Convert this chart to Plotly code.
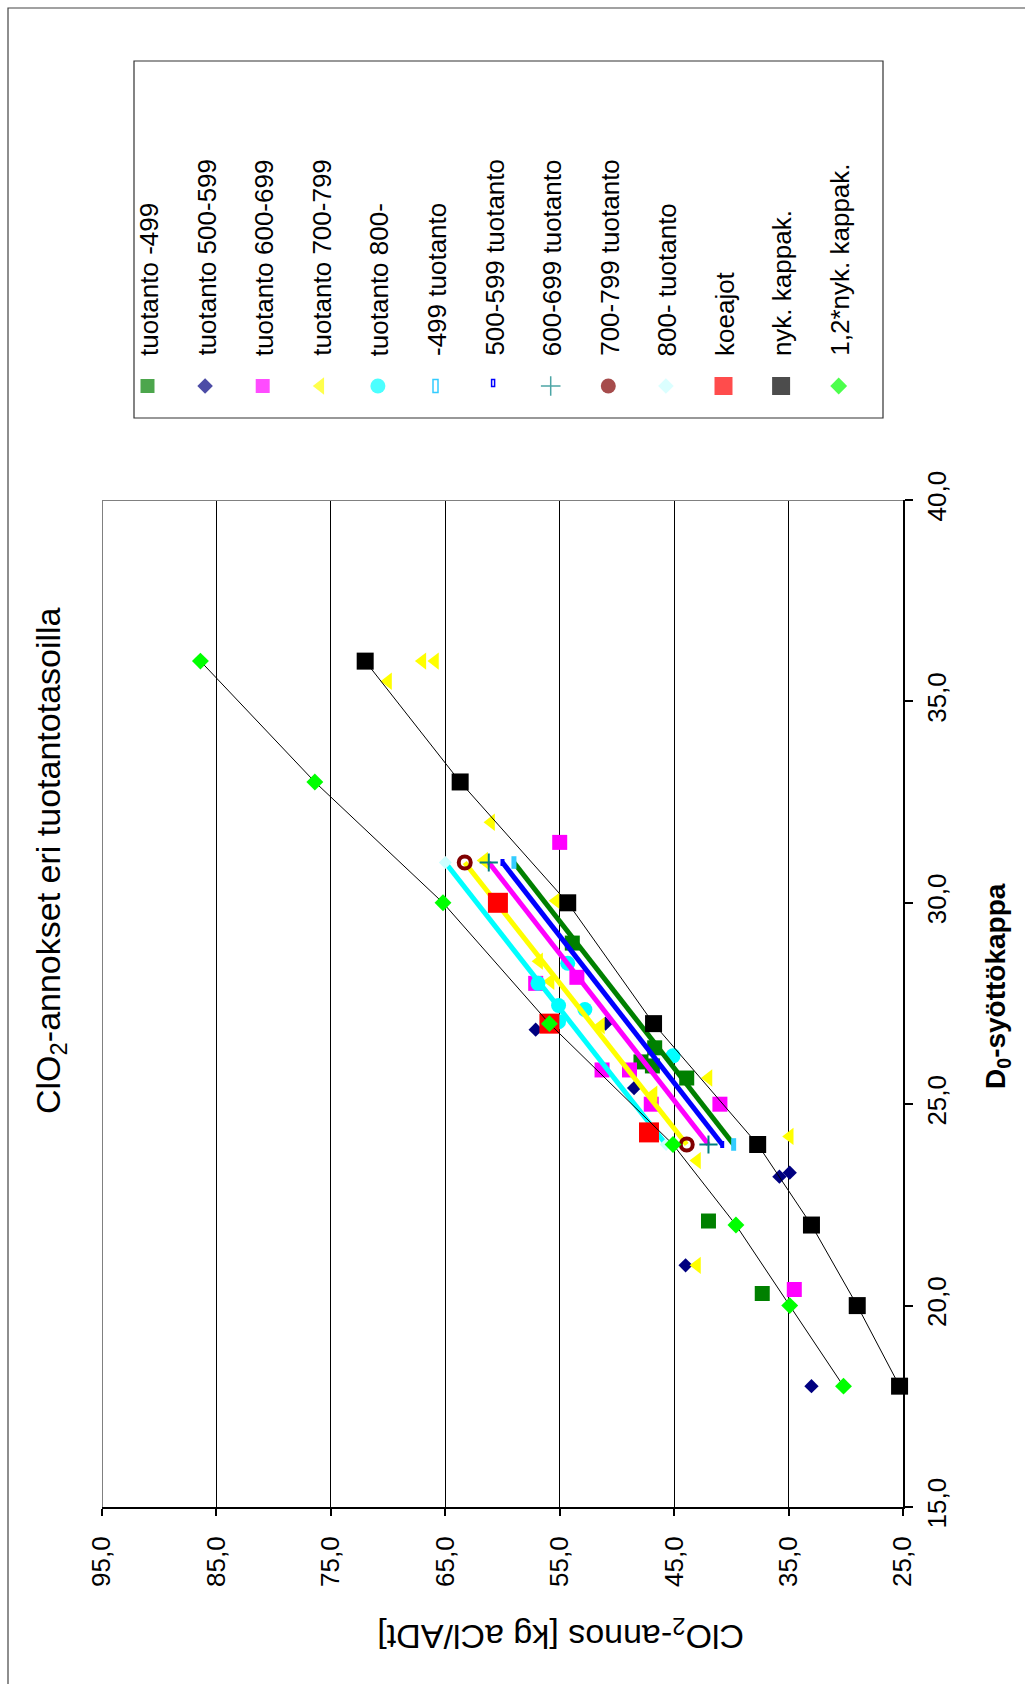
import plotly.graph_objects as go

W, H = 1025, 1684

# ---------------- data (x = D0-syöttökappa, y = ClO2-annos) ----------------
t499_kappa = [29.0, 26.4, 26.05, 25.95, 25.65, 22.1, 20.3]
t499_clo2 = [53.9, 46.7, 47.9, 46.9, 43.9, 42.0, 37.3]

t500_kappa = [26.85, 27.0, 25.4, 23.2, 23.3, 21.0, 18.0]
t500_clo2 = [57.1, 51.0, 48.5, 35.8, 34.9, 44.0, 33.0]

t600_kappa = [31.5, 28.15, 28.0, 25.85, 25.85, 25.0, 25.0, 20.4]
t600_clo2 = [55.0, 53.5, 57.1, 51.3, 48.9, 47.0, 41.0, 34.5]

t700_kappa = [36.0, 36.0, 35.5, 32.0, 31.05, 30.05, 28.55, 28.05, 26.95, 25.65, 25.25, 24.2, 23.6, 21.0]
t700_clo2 = [67.0, 65.9, 70.0, 61.0, 61.6, 55.3, 56.8, 55.8, 51.4, 42.0, 46.8, 34.9, 43.0, 43.0]

t800_kappa = [28.5, 28.0, 27.45, 27.35, 27.05, 26.2]
t800_clo2 = [54.3, 56.9, 55.1, 52.8, 55.1, 45.1]

trend_kappa = [24.0, 31.0]
l499_clo2 = [39.8, 59.0]
l500_clo2 = [40.8, 60.0]
l600_clo2 = [42.0, 61.2]
l700_clo2 = [43.9, 63.3]
l800_clo2 = [45.7, 65.0]

koe_kappa = [30.0, 27.0, 24.3]
koe_clo2 = [60.4, 55.9, 47.2]

nyk_kappa = [18, 20, 22, 24, 27, 30, 33, 36]
nyk_clo2 = [25.3, 29.0, 33.0, 37.7, 46.8, 54.3, 63.7, 72.0]
nyk12_clo2 = [30.2, 34.9, 39.6, 45.1, 55.9, 65.2, 76.4, 86.4]

clo2_tickvals = [95, 85, 75, 65, 55, 45, 35, 25]
clo2_ticktext = ["95,0", "85,0", "75,0", "65,0", "55,0", "45,0", "35,0", "25,0"]
kappa_tickvals = [15, 20, 25, 30, 35, 40]
kappa_ticktext = ["15,0", "20,0", "25,0", "30,0", "35,0", "40,0"]

legend_labels = ["tuotanto -499", "tuotanto 500-599", "tuotanto 600-699", "tuotanto 700-799",
                 "tuotanto 800-", "-499 tuotanto", "500-599 tuotanto", "600-699 tuotanto",
                 "700-799 tuotanto", "800- tuotanto", "koeajot", "nyk. kappak.", "1,2*nyk. kappak."]

FONT = "Liberation Sans, Arial, sans-serif"

fig = go.Figure()


def add(kappa, clo2, name, **kw):
    fig.add_trace(go.Scatter(x=clo2, y=kappa, name=name, showlegend=False,
                             xaxis="x", yaxis="y", **kw))


add(t499_kappa, t499_clo2, legend_labels[0], mode="markers",
    marker=dict(symbol="square", size=15, color="#008000"))
add(t500_kappa, t500_clo2, legend_labels[1], mode="markers",
    marker=dict(symbol="diamond", size=11, color="#000080"))
add(t600_kappa, t600_clo2, legend_labels[2], mode="markers",
    marker=dict(symbol="square", size=15, color="#FF00FF"))
add(t700_kappa, t700_clo2, legend_labels[3], mode="markers",
    marker=dict(symbol="triangle-left", size=15, color="#FFFF00"))
add(t800_kappa, t800_clo2, legend_labels[4], mode="markers",
    marker=dict(symbol="circle", size=15, color="#00FFFF"))

add(trend_kappa, l499_clo2, legend_labels[5], mode="lines+markers",
    line=dict(color="#008000", width=5),
    marker=dict(symbol="line-ns", size=9, color="#33CCFF", line=dict(color="#33CCFF", width=5)))
add(trend_kappa, l500_clo2, legend_labels[6], mode="lines+markers",
    line=dict(color="#0000FF", width=5),
    marker=dict(symbol="line-ns", size=5, color="#0000FF", line=dict(color="#0000FF", width=4)))
add(trend_kappa, l600_clo2, legend_labels[7], mode="lines+markers",
    line=dict(color="#FF00FF", width=5),
    marker=dict(symbol="cross-thin", size=13, color="#008080", line=dict(color="#008080", width=2)))
add(trend_kappa, l700_clo2, legend_labels[8], mode="lines+markers",
    line=dict(color="#FFFF00", width=5),
    marker=dict(symbol="circle-open", size=12, color="#800000", line=dict(color="#800000", width=4)))
add(trend_kappa, l800_clo2, legend_labels[9], mode="lines+markers",
    line=dict(color="#00FFFF", width=5),
    marker=dict(symbol="diamond", size=10, color="#CCFFFF"))

add(koe_kappa, koe_clo2, legend_labels[10], mode="markers",
    marker=dict(symbol="square", size=20, color="#FF0000"))
add(nyk_kappa, nyk_clo2, legend_labels[11], mode="lines+markers", cliponaxis=False,
    line=dict(color="#000000", width=1),
    marker=dict(symbol="square", size=17, color="#000000"))
add(nyk_kappa, nyk12_clo2, legend_labels[12], mode="lines+markers", cliponaxis=False,
    line=dict(color="#000000", width=1),
    marker=dict(symbol="diamond", size=13, color="#00FF00"))

# ---------------- manual (rotated) legend ----------------
LX0, LDX, LMY, LTY = 147.5, 57.6, 386, 358
leg_x = [LX0 + i * LDX for i in range(len(legend_labels))]
leg_sym = ["square", "diamond", "square", "triangle-left", "circle", "square", "square",
           "cross-thin", "circle", "diamond", "square", "square", "diamond"]
leg_col = ["#008000", "#000080", "#FF00FF", "#FFFF00", "#00FFFF", "rgba(0,0,0,0)",
           "rgba(0,0,0,0)", "#008080", "#800000", "#CCFFFF", "#FF0000", "#000000", "#00FF00"]
leg_size = [14, 12, 14, 15, 15, 0, 0, 14, 15, 12, 18, 18, 13]
leg_lcol = ["rgba(0,0,0,0)"] * 7 + ["#008080"] + ["rgba(0,0,0,0)"] * 5
leg_lw = [0] * 7 + [1.5] + [0] * 5
fig.add_trace(go.Scatter(x=leg_x, y=[LMY] * len(leg_x), mode="markers", showlegend=False,
                         xaxis="x2", yaxis="y2", hoverinfo="skip",
                         marker=dict(symbol=leg_sym, color=leg_col, size=leg_size,
                                     line=dict(color=leg_lcol, width=leg_lw))))

shapes = []
# hollow dash markers for the two trend-line entries
for i, (w, h, c) in zip([5, 6], [(5, 13, "#33CCFF"), (3, 7, "#0000FF")]):
    shapes.append(dict(type="rect", xref="x2", yref="y2", x0=leg_x[i] - w / 2, x1=leg_x[i] + w / 2,
                       y0=LMY - h / 2 - (3 if i == 6 else 0), y1=LMY + h / 2 - (3 if i == 6 else 0),
                       line=dict(color=c, width=1.5), fillcolor="white"))

annotations = []
for i, lab in enumerate(legend_labels):
    annotations.append(dict(text=lab, xref="x2", yref="y2", x=leg_x[i] + 1, y=LTY,
                            xanchor="center", yanchor="bottom", textangle=-90, showarrow=False,
                            font=dict(family=FONT, size=26, color="black")))

# legend box, outer border, plot border (left/top in grey)
shapes.append(dict(type="rect", xref="x2", yref="y2", x0=134, y0=61, x1=883, y1=418,
                   line=dict(color="#333333", width=1.2), layer="below"))
shapes.append(dict(type="rect", xref="x2", yref="y2", x0=8, y0=8, x1=1060, y1=1720,
                   line=dict(color="#444444", width=1.2), layer="below"))
shapes.append(dict(type="line", xref="x", yref="y", x0=95, x1=95, y0=15, y1=40,
                   line=dict(color="#808080", width=2), layer="above"))
shapes.append(dict(type="line", xref="x", yref="y", x0=95, x1=25, y0=40, y1=40,
                   line=dict(color="#808080", width=2), layer="above"))

# titles
annotations.append(dict(text="ClO<sub>2</sub>-annokset eri tuotantotasoilla", xref="x2", yref="y2",
                        x=50, y=861, xanchor="center", yanchor="middle", textangle=-90,
                        showarrow=False, font=dict(family=FONT, size=34, color="black")))
annotations.append(dict(text="ClO<sub>2</sub>-annos [kg aCl/ADt]", xref="x2", yref="y2",
                        x=561, y=1635, xanchor="center", yanchor="middle", textangle=180,
                        showarrow=False, font=dict(family=FONT, size=34, color="black")))
annotations.append(dict(text="<b>D<sub>0</sub>-syöttökappa</b>", xref="x2", yref="y2",
                        x=997, y=986, xanchor="center", yanchor="middle", textangle=-90,
                        showarrow=False, font=dict(family=FONT, size=28, color="black")))

fig.update_layout(
    template="none",
    width=W, height=H, margin=dict(l=0, r=0, t=0, b=0, pad=0, autoexpand=False),
    paper_bgcolor="white", plot_bgcolor="rgba(0,0,0,0)",
    font=dict(family=FONT, color="black"),
    xaxis=dict(domain=[102 / W, 903 / W], range=[95, 25], autorange=False, anchor="y",
               automargin=False,
               tickvals=clo2_tickvals, ticktext=clo2_ticktext, tickangle=-90,
               tickfont=dict(family=FONT, size=26, color="black"),
               showgrid=True, gridcolor="#000000", gridwidth=1, zeroline=False,
               showline=True, linecolor="black", linewidth=2,
               ticks="outside", ticklen=7, tickcolor="black", tickwidth=1.5,
               ticklabelstandoff=10, fixedrange=True),
    yaxis=dict(domain=[1 - 1507 / H, 1 - 500 / H], range=[15, 40], autorange=False, anchor="x",
               automargin=False,
               side="right", tickvals=kappa_tickvals, ticktext=kappa_ticktext, tickangle=-90,
               tickfont=dict(family=FONT, size=26, color="black"),
               showgrid=False, zeroline=False,
               showline=True, linecolor="black", linewidth=2,
               ticks="outside", ticklen=8, tickcolor="black", tickwidth=1.5,
               ticklabelstandoff=2, fixedrange=True),
    xaxis2=dict(domain=[0, 1], range=[0, W], visible=False, anchor="y2", fixedrange=True,
                automargin=False),
    yaxis2=dict(domain=[0, 1], range=[H, 0], visible=False, anchor="x2", fixedrange=True,
                automargin=False),
    shapes=shapes, annotations=annotations,
)

fig.write_html("out.html")
